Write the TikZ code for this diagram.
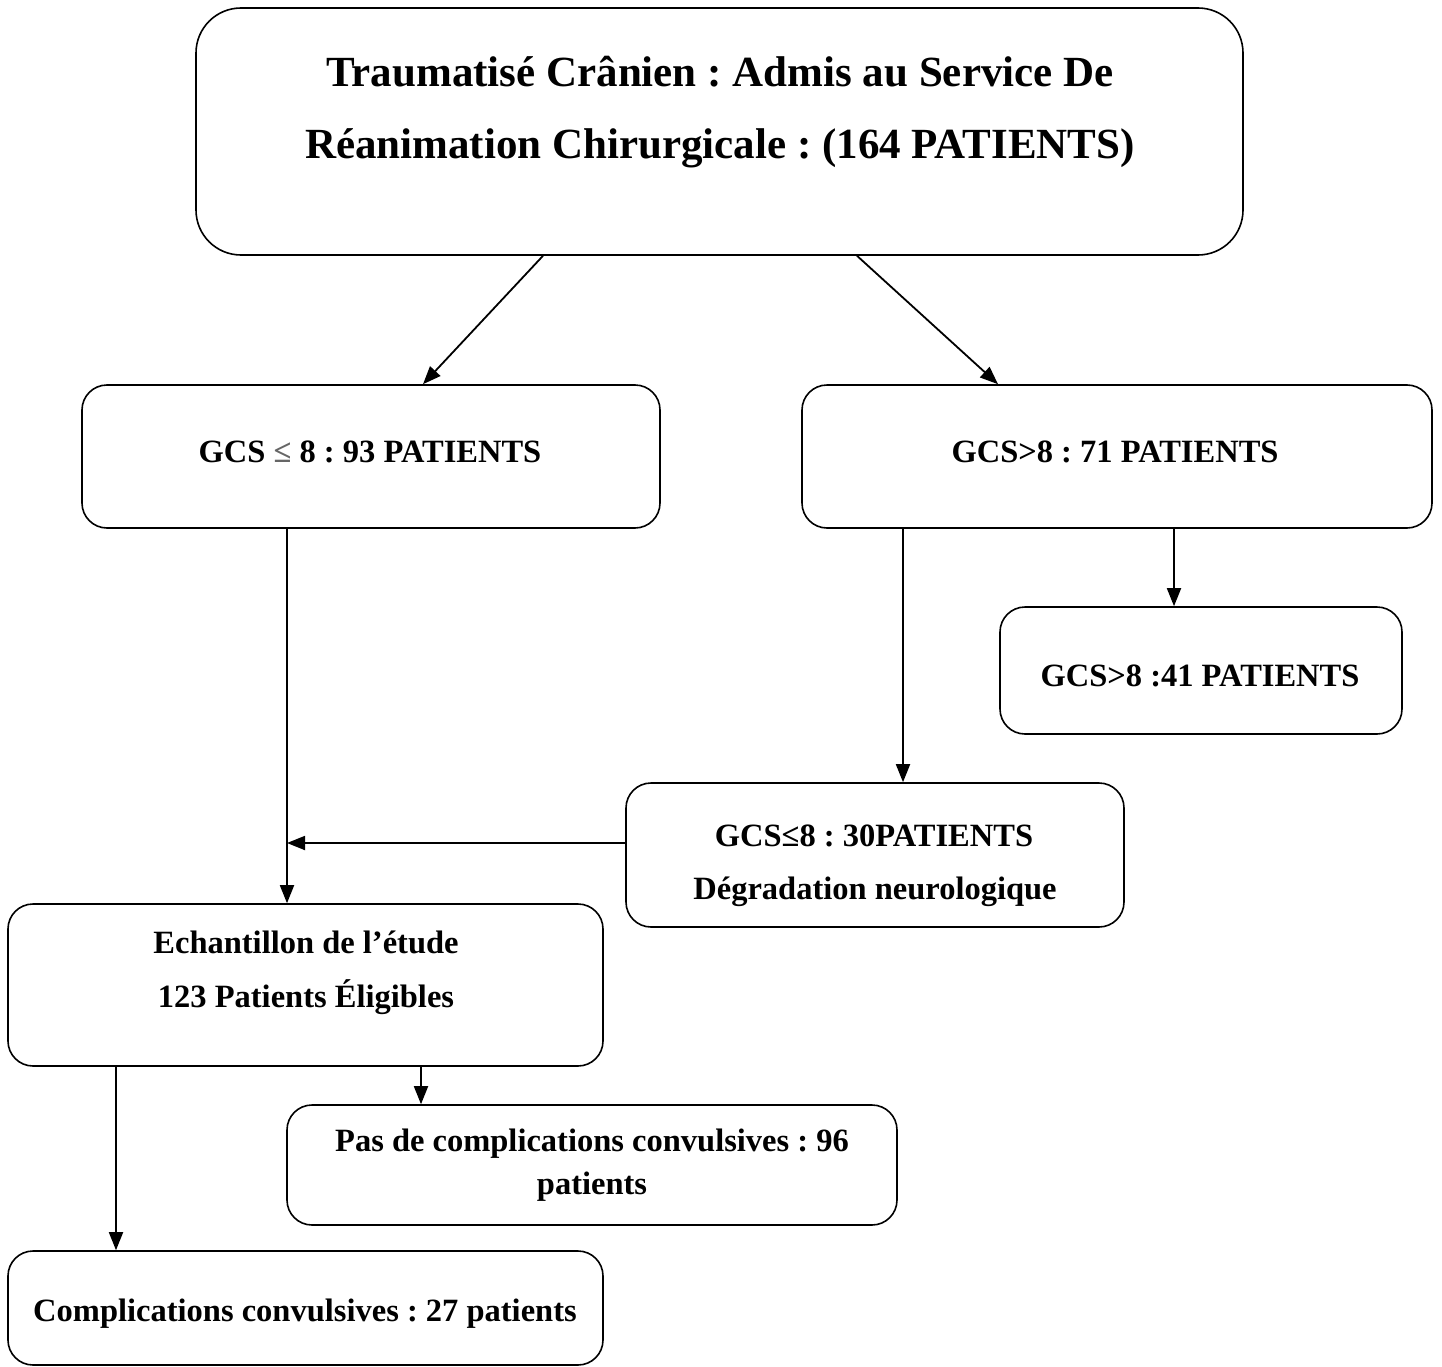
\documentclass[tikz,border=0pt]{standalone}
\usepackage{fontspec}
\setmainfont{Liberation Serif}
\usetikzlibrary{arrows.meta}
\frenchspacing
\begin{document}
\begin{tikzpicture}[x=1pt,y=-1pt,
  box/.style={draw=black,line width=1.6pt,rounded corners=25pt,inner sep=0pt},
  bigbox/.style={box,rounded corners=45pt},
  txt/.style={anchor=base,inner sep=0pt,font=\fontsize{32.5}{32.5}\selectfont\bfseries},
  bigtxt/.style={anchor=base,inner sep=0pt,font=\fontsize{43}{43}\selectfont\bfseries},
  arr/.style={line width=1.8pt,-{Triangle[length=18pt,width=14pt]}}]
\useasboundingbox (0,0) rectangle (1442,1367);
% boxes
\node[bigbox,minimum width=1047pt,minimum height=247pt] (top) at (719.5,131.5) {};
\node[box,minimum width=578pt,minimum height=143pt] (b1) at (371,456.5) {};
\node[box,minimum width=630pt,minimum height=143pt] (b2) at (1117,456.5) {};
\node[box,minimum width=402pt,minimum height=127pt] (b3) at (1201,670.5) {};
\node[box,minimum width=498pt,minimum height=144pt] (b4) at (875,855) {};
\node[box,minimum width=595pt,minimum height=162pt] (b5) at (305.5,985) {};
\node[box,minimum width=610pt,minimum height=120pt] (b6) at (592,1165) {};
\node[box,minimum width=595pt,minimum height=114pt] (b7) at (305.5,1308) {};
% texts
\node[bigtxt] (t1a) at (720,87) {Traumatisé Crânien : Admis au Service De};
\node[bigtxt] (t1b) at (720,159) {Réanimation Chirurgicale : (164 PATIENTS)};
\node[txt] (t2) at (370,462) {GCS {\color{black!60}≤} 8 : 93 PATIENTS};
\node[txt] (t3) at (1115,462) {GCS>8 : 71 PATIENTS};
\node[txt] (t4) at (1200,686) {GCS>8 :41 PATIENTS};
\node[txt] (t5a) at (874,846) {GCS≤8 : 30PATIENTS};
\node[txt] (t5b) at (875,899) {Dégradation neurologique};
\node[txt] (t6a) at (306,953) {Echantillon de l’étude};
\node[txt] (t6b) at (306,1007) {123 Patients Éligibles};
\node[txt] (t7a) at (592,1151) {Pas de complications convulsives : 96};
\node[txt] (t7b) at (592,1194) {patients};
\node[txt] (t8) at (305,1321) {Complications convulsives : 27 patients};
% connectors
\coordinate (join) at (287,843);
\draw[arr] ([xshift=-176.5pt]top.south) -- ([xshift=52pt]b1.north);
\draw[arr] ([xshift=137.5pt]top.south) -- ([xshift=-119pt]b2.north);
\draw[arr] ([xshift=-84pt]b1.south) -- ([xshift=-18.5pt]b5.north);
\draw[arr] ([xshift=-214pt]b2.south) -- ([xshift=28pt]b4.north);
\draw[arr] ([xshift=57pt]b2.south) -- ([xshift=-27pt]b3.north);
\draw[arr] ([yshift=12pt]b4.west) -- (join);
\draw[arr] ([xshift=-189.5pt]b5.south) -- ([xshift=-189.5pt]b7.north);
\draw[arr] ([xshift=115.5pt]b5.south) -- ([xshift=-171pt]b6.north);
\end{tikzpicture}
\end{document}
